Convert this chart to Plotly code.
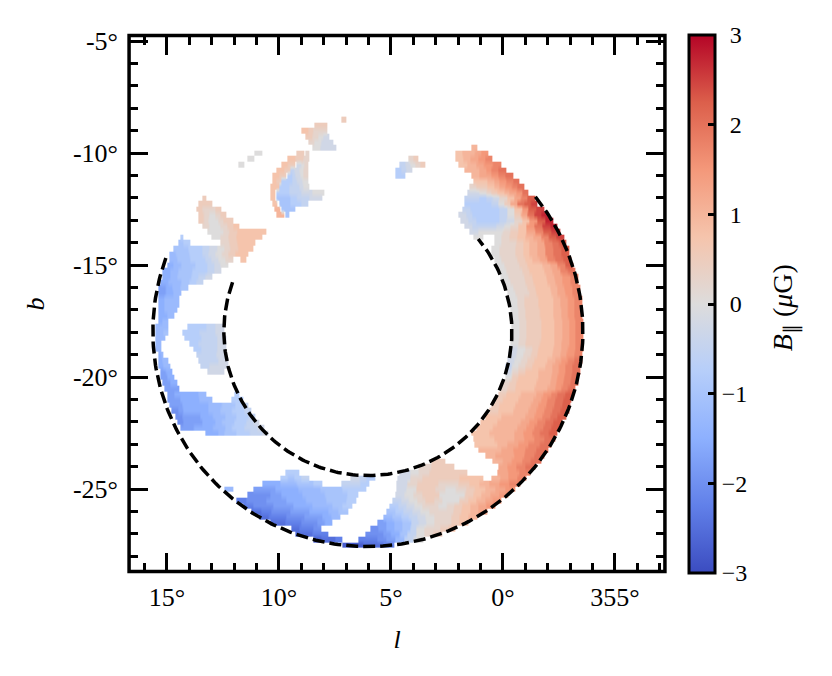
import numpy as np
import plotly.graph_objects as go

# Field strength levels, one letter per 0.25 uG step from a=-3 to y=3
LEVELS = "abcdefghijklmnopqrstuvwxy"
LEVEL_VALUES = [-3, -2.75, -2.5, -2.25, -2, -1.75, -1.5, -1.25, -1, -0.75, -0.5, -0.25, 0,
                0.25, 0.5, 0.75, 1, 1.25, 1.5, 1.75, 2, 2.25, 2.5, 2.75, 3]

# Each row: galactic latitude b, then runs of (l start, l end, levels across the run)
ROWS = [
    (-8.5, [(7.2, 7.05, "o")]),
    (-8.75, [(8.4, 7.9, "oo")]),
    (-9.0, [(9.0, 7.9, "ponn")]),
    (-9.25, [(8.8, 7.8, "onml")]),
    (-9.5, [(8.7, 7.6, "nmll")]),
    (-9.75, [(8.5, 7.5, "mll"), (1.4, 1.2, "q")]),
    (-10.0, [(11.1, 10.8, "m"), (9.2, 8.9, "o"), (8.8, 8.7, "n"), (2.1, 0.7, "pqqrs")]),
    (-10.25, [(11.4, 11.15, "m"), (9.6, 8.9, "po"), (8.9, 8.7, "n"), (4.2, 3.8, "no"), (2.1, 0.5, "pqrst")]),
    (-10.5, [(11.8, 11.6, "m"), (9.9, 9.3, "po"), (9.2, 8.75, "lmn"), (4.6, 3.5, "klmno"), (2.0, 0.1, "pqrst")]),
    (-10.75, [(10.1, 9.5, "po"), (9.5, 8.75, "klmn"), (4.8, 4.1, "jkl"), (1.7, -0.1, "qqrstu")]),
    (-11.0, [(10.3, 9.7, "po"), (9.6, 8.75, "jklmn"), (4.8, 4.4, "jj"), (1.4, -0.4, "qrrstu")]),
    (-11.25, [(10.3, 9.9, "po"), (9.9, 8.75, "jjklm"), (1.3, -0.7, "ppqrstu")]),
    (-11.5, [(10.4, 10.0, "p"), (10.0, 8.7, "jjkklm"), (1.5, -0.9, "noopqrstu")]),
    (-11.75, [(10.4, 10.2, "p"), (10.1, 8.0, "jjkkllmm"), (1.6, -1.1, "llmnopqrsu")]),
    (-12.0, [(13.4, 13.3, "o"), (10.4, 10.2, "p"), (10.1, 8.1, "iijkkll"), (1.7, -1.4, "kkjklnprtv")]),
    (-12.25, [(13.6, 13.0, "oo"), (10.3, 10.1, "p"), (10.0, 8.75, "iijjk"), (1.7, -1.5, "jjjjkmoruvw")]),
    (-12.5, [(13.7, 12.6, "onno"), (10.2, 10.0, "q"), (9.9, 9.3, "ii"), (1.8, -1.8, "kjjjjkmpsvw")]),
    (-12.75, [(13.6, 12.4, "onmno"), (10.1, 9.8, "q"), (9.7, 9.6, "i"), (2.0, -2.0, "lkjjjjkmoruwx")]),
    (-13.0, [(13.6, 12.1, "onmmnoo"), (1.9, -2.2, "lkjjjklnpsvx")]),
    (-13.25, [(13.4, 11.8, "nmmnop"), (1.7, -2.4, "lkkklmnpsuwx")]),
    (-13.5, [(13.2, 10.6, "mmnopppp"), (1.5, -2.5, "lmmmnoprtvw")]),
    (-13.75, [(14.4, 14.3, "j"), (13.0, 10.8, "mnoppp"), (1.3, 0.9, "mm"), (0.4, -2.7, "mnopqrtvw")]),
    (-14.0, [(14.5, 14.0, "ij"), (12.6, 11.1, "nopp"), (0.4, -2.8, "mnnopqrtuv")]),
    (-14.25, [(14.7, 11.2, "iijjklmnopp"), (0.5, -2.9, "mnnopqrtuv")]),
    (-14.5, [(14.9, 11.4, "hiijjklmnopp"), (0.5, -2.9, "mnnopqrtuv")]),
    (-14.75, [(14.9, 12.1, "hiijjklmn"), (11.7, 11.5, "p"), (0.4, -3.0, "mnnopqrtuv")]),
    (-15.0, [(15.0, 12.3, "ghiijjklm"), (0.3, -3.1, "mnnoppqrtv")]),
    (-15.25, [(15.2, 12.6, "ghiijjkl"), (0.2, -3.2, "mnnoppqrtu")]),
    (-15.5, [(15.2, 13.0, "ghiijkl"), (0.1, -3.3, "mnnoppqrst")]),
    (-15.75, [(15.3, 13.4, "ghhijk"), (0.0, -3.3, "mnnoppqrst")]),
    (-16.0, [(15.4, 14.1, "fghi"), (-0.1, -3.4, "mnnoppqrst")]),
    (-16.25, [(15.4, 14.4, "fgh"), (-0.2, -3.4, "mnnoppqrst")]),
    (-16.5, [(15.4, 14.5, "ghh"), (-0.3, -3.5, "mnooppqrst")]),
    (-16.75, [(15.4, 14.5, "ghh"), (-0.3, -3.5, "mnooppqrst")]),
    (-17.0, [(15.4, 14.6, "ghh"), (-0.35, -3.5, "mnooppqrst")]),
    (-17.25, [(15.4, 14.7, "gh"), (-0.35, -3.5, "mnooppqrst")]),
    (-17.5, [(15.4, 15.0, "gh"), (-0.4, -3.55, "mnooppqrst")]),
    (-17.75, [(15.5, 15.0, "hh"), (14.1, 12.5, "jjkl"), (-0.4, -3.55, "mnooppqrst")]),
    (-18.0, [(15.5, 15.0, "hhi"), (14.3, 12.5, "jjkkl"), (-0.4, -3.55, "mnooppqrst")]),
    (-18.25, [(15.5, 15.1, "hh"), (14.2, 12.4, "jjkkl"), (-0.4, -3.55, "mnooppqrst")]),
    (-18.5, [(15.5, 15.3, "h"), (14.0, 12.4, "jkkl"), (-0.35, -3.55, "mnooppqrst")]),
    (-18.75, [(15.5, 15.3, "h"), (13.8, 12.4, "jkkl"), (-0.3, -3.55, "lmnoppqrst")]),
    (-19.0, [(15.4, 15.2, "gh"), (13.7, 12.4, "kkl"), (-0.25, -3.5, "lmnoppqrst")]),
    (-19.25, [(15.4, 15.0, "gh"), (13.6, 12.3, "kkl"), (-0.2, -3.5, "lmnoppqrstu")]),
    (-19.5, [(15.4, 14.9, "gh"), (13.5, 12.3, "kll"), (-0.1, -3.4, "kmnoppqrstu")]),
    (-19.75, [(15.3, 14.8, "fg"), (13.2, 12.5, "ll"), (-0.1, -3.4, "lnoppqqrstu")]),
    (-20.0, [(15.3, 14.7, "fg"), (-0.1, -3.3, "mopppqqrstu")]),
    (-20.25, [(15.2, 14.6, "fg"), (0.0, -3.3, "nopppqqrstu")]),
    (-20.5, [(15.1, 14.5, "ff"), (0.1, -3.2, "nopppqqrstu")]),
    (-20.75, [(15.0, 13.3, "fgggh"), (12.0, 11.8, "j"), (0.2, -3.1, "oppqqrstuv")]),
    (-21.0, [(15.0, 13.0, "ffggghh"), (12.1, 11.65, "jj"), (0.35, -3.0, "oppqqrstuv")]),
    (-21.25, [(14.9, 11.4, "ffgggghhiijk"), (0.5, -2.95, "oppqqrstuv")]),
    (-21.5, [(14.8, 11.3, "efgggghhiijjk"), (0.6, -2.9, "oppqqrstuv")]),
    (-21.75, [(14.6, 11.1, "efffgghhiijjk"), (0.8, -2.8, "ppqqqrstuv")]),
    (-22.0, [(14.55, 10.9, "efffgghiijjkl"), (1.0, -2.6, "ppqqqrstuv")]),
    (-22.25, [(14.4, 10.7, "ffggghhijjkkl"), (1.2, -2.5, "ppqqqrstuv")]),
    (-22.5, [(13.3, 10.5, "gghiijjkkl"), (1.4, -2.4, "ppqqqrstuv")]),
    (-22.75, [(1.3, -2.3, "ppqqrstu")]),
    (-23.0, [(1.25, -2.1, "ppqrstu")]),
    (-23.25, [(1.1, -2.0, "qqrstu")]),
    (-23.5, [(0.8, -1.8, "qrrstu")]),
    (-23.75, [(3.2, 2.6, "oo"), (0.45, -1.65, "qrstu")]),
    (-24.0, [(3.75, 2.2, "noo"), (0.2, -1.4, "rstu")]),
    (-24.25, [(9.7, 9.15, "jj"), (4.6, 1.65, "lmnoooo"), (0.25, -1.2, "rst")]),
    (-24.5, [(9.95, 8.7, "jijk"), (6.8, 5.75, "lkj"), (4.7, 0.9, "lnooopp"), (0.5, -1.0, "qrst")]),
    (-24.75, [(10.75, 8.1, "gghhiij"), (7.2, 6.0, "kkj"), (4.75, -0.75, "lnoonnopqrst")]),
    (-25.0, [(12.45, 12.1, "h"), (11.15, 6.15, "ffgghhiijj"), (4.75, -0.5, "lmoonmnopqrs")]),
    (-25.25, [(11.4, 6.5, "eefgghhiij"), (4.8, -0.2, "lmnoommmopqrs")]),
    (-25.5, [(11.9, 6.6, "deeffgghhiij"), (4.95, 0.1, "klmnonmmopqrs")]),
    (-25.75, [(11.6, 6.75, "deeffgghhij"), (5.05, 0.4, "jklmnnmnopqrs")]),
    (-26.0, [(11.25, 6.95, "cdeeffgghi"), (5.2, 0.75, "ijklmnnnopqr")]),
    (-26.25, [(10.85, 7.3, "cddeeffgh"), (5.35, 1.2, "hijklmnnopq")]),
    (-26.5, [(10.4, 7.65, "ccddeefg"), (5.6, 1.6, "fghiklmnnop")]),
    (-26.75, [(9.45, 8.15, "cdde"), (5.9, 2.15, "efghikmnnop")]),
    (-27.0, [(9.25, 7.85, "ccdd"), (6.15, 2.75, "eefgikmno")]),
    (-27.25, [(8.45, 7.2, "bccd"), (6.45, 3.6, "ddefhkm")]),
    (-27.5, [(7.15, 4.9, "bbccd")]),
]

# Dashed boundary circles: centre, radii (degrees) and angular extent
CENTER_L, CENTER_B = 6.03, -17.97
RADII = [9.6, 6.43]
ARC_START, ARC_END = 160, 400

X_TICKS = [15, 10, 5, 0, -5]
X_LABELS = ["15°", "10°", "5°", "0°", "355°"]
Y_TICKS = [-5, -10, -15, -20, -25]
Y_LABELS = ["-5°", "-10°", "-15°", "-20°", "-25°"]
CB_TICKS = [-3, -2, -1, 0, 1, 2, 3]
CB_LABELS = ["−3", "−2", "−1", "\u20040", "\u20041", "\u20042", "\u20043"]

COOLWARM = [[0, "#3b4cc0"], [0.125, "#6180e9"], [0.25, "#8db0fe"], [0.375, "#b6cefa"],
            [0.5, "#dddcdc"], [0.625, "#f5c4ac"], [0.75, "#f4987a"], [0.875, "#dc5f4b"],
            [1, "#b40426"]]

value_of = dict(zip(LEVELS, LEVEL_VALUES))
l_grid = np.round(np.arange(16.7, -7.25, -0.05), 3)
b_grid = [r[0] for r in ROWS]
z = np.full((len(b_grid), len(l_grid)), np.nan)
for i, (_, runs) in enumerate(ROWS):
    for start, end, letters in runs:
        mask = (l_grid <= start) & (l_grid >= end)
        frac = (start - l_grid[mask]) / (start - end)
        idx = np.minimum((frac * len(letters)).astype(int), len(letters) - 1)
        z[i, mask] = [value_of[letters[k]] for k in idx]

FONT = "Liberation Serif"
fig = go.Figure()
fig.add_trace(go.Heatmap(
    x=l_grid, y=b_grid, z=z, zmin=-3, zmax=3, colorscale=COOLWARM, hoverongaps=False, zsmooth="best",
    colorbar=dict(
        x=1.0428, xanchor="left", xpad=0, y=0.5, yanchor="middle", ypad=0, len=1.0, lenmode="fraction",
        thickness=26, thicknessmode="pixels", outlinewidth=3, outlinecolor="black",
        tickmode="array", tickvals=CB_TICKS, ticktext=CB_LABELS, ticks="inside", ticklen=8,
        tickwidth=2.5, tickcolor="black", tickfont=dict(family=FONT, size=24, color="black"),
    ),
))
for radius in RADII:
    theta = np.radians(np.arange(ARC_START, ARC_END + 1, 1.0))
    fig.add_trace(go.Scatter(
        x=CENTER_L - radius * np.cos(theta), y=CENTER_B + radius * np.sin(theta),
        mode="lines", line=dict(color="black", width=3.5, dash="12px,5px"),
        showlegend=False, hoverinfo="skip",
    ))

minor = dict(ticks="inside", ticklen=10, tickwidth=3, tickcolor="black", tickmode="linear", tick0=0, dtick=1)
common = dict(showgrid=False, zeroline=False, showline=False,
              mirror="allticks", ticks="inside", ticklen=20, tickwidth=3, tickcolor="black",
              tickmode="array", tickfont=dict(family=FONT, size=26, color="black"), minor=minor)
fig.update_xaxes(range=[16.74, -7.28], tickvals=X_TICKS, ticktext=X_LABELS, ticklabelstandoff=6,
                 title=dict(text="<i>l</i>", font=dict(family=FONT, size=26, color="black"), standoff=18), **common)
fig.update_yaxes(range=[-28.75, -4.73], tickvals=Y_TICKS, ticktext=Y_LABELS, ticklabelstandoff=9,
                 title=dict(text="<i>b</i>", font=dict(family=FONT, size=26, color="black"), standoff=20), **common)
fig.update_layout(width=816, height=660, autosize=False, showlegend=False,
                  plot_bgcolor="white", paper_bgcolor="white",
                  margin=dict(l=120, r=158, t=27, b=95),
                  annotations=[dict(text="<i>B</i><sub>∥</sub> (<i>μ</i>G)", xref="paper", yref="paper",
                                    x=1.221, y=0.494, xanchor="center", yanchor="middle", textangle=-90,
                                    showarrow=False, font=dict(family=FONT, size=28, color="black"))],
                  shapes=[dict(type="rect", xref="paper", yref="paper", x0=0.002, x1=0.998, y0=0.0028, y1=0.999,
                               line=dict(color="black", width=3.5), fillcolor="rgba(0,0,0,0)", layer="above")])
fig.write_html("out.html")
